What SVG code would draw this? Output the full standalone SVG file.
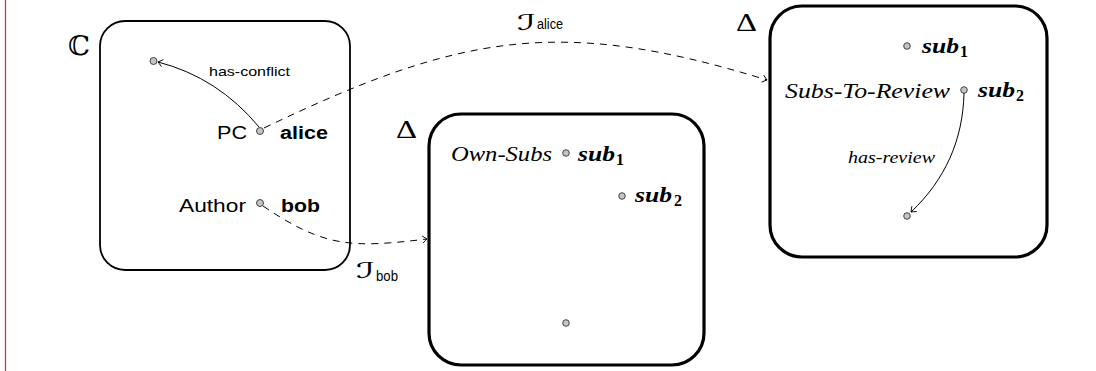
<svg xmlns="http://www.w3.org/2000/svg" width="1096" height="371" viewBox="0 0 1096 371">
<style>
.box{fill:#fff;stroke:#000}
.thin{stroke-width:1.8}
.thick{stroke-width:3.2}
.nd{fill:#c4c4c4;stroke:#333;stroke-width:0.9}
.sans{font-family:"Liberation Sans","DejaVu Sans",sans-serif;fill:#000}
.serif{font-family:"Liberation Serif","DejaVu Serif",serif;fill:#000}
.it{font-style:italic}
.bi{font-style:italic;font-weight:bold;font-size:22px}
.sb{font-weight:bold;font-size:16px}
.edge{fill:none;stroke:#000;stroke-width:1}
.dash{fill:none;stroke:#000;stroke-width:1;stroke-dasharray:7 6}
.script{font-family:"DejaVu Sans","DejaVu Serif",sans-serif;fill:#000}
.delta{font-family:"Liberation Serif","DejaVu Serif",serif;font-weight:normal;fill:#000}
</style>
<defs>
<marker id="arr" markerWidth="10" markerHeight="10" refX="0" refY="0" viewBox="-6 -5 8 10" orient="auto" markerUnits="userSpaceOnUse">
<path d="M-4.5,-3.6 Q-1.2,-0.8 0,0 Q-1.2,0.8 -4.5,3.6" fill="none" stroke="#000" stroke-width="0.9"/>
</marker>
</defs>
<line x1="5.5" y1="0" x2="5.5" y2="371" stroke="#d9262b" stroke-width="1.2"/>

<g id="box-C">
<rect class="box thin" x="100" y="21" width="250" height="249" rx="25"/>
<text class="serif" x="68" y="55" font-size="27" font-family="DejaVu Serif" textLength="22" lengthAdjust="spacingAndGlyphs">ℂ</text>
</g>
<g id="box-own">
<rect class="box thick" x="429" y="114" width="275" height="251" rx="32"/>
<text class="delta" x="396" y="138" font-size="25" textLength="21" lengthAdjust="spacingAndGlyphs">Δ</text>
</g>
<g id="box-review">
<rect class="box thick" x="770" y="6" width="277" height="251" rx="32"/>
<text class="delta" x="736" y="31" font-size="25" textLength="21" lengthAdjust="spacingAndGlyphs">Δ</text>
</g>

<g id="connectors">
<path class="edge" d="M259,127 Q218,77.5 158,62" marker-end="url(#arr)"/>
<path class="edge" d="M964,93 C963,140 945,180 911,212" marker-end="url(#arr)"/>
<path class="dash" d="M264,128 C460,34 560,16 767,80" marker-end="url(#arr)"/>
<path class="dash" d="M263,206 C325,248 352,248 427,239" marker-end="url(#arr)"/>
<text class="sans" x="209" y="76" font-size="13" textLength="81" lengthAdjust="spacingAndGlyphs">has-conflict</text>
<text class="serif it" x="848" y="163" font-size="16" textLength="87" lengthAdjust="spacingAndGlyphs">has-review</text>
<g id="label-alice">
<text class="script" x="517" y="30" font-size="22" textLength="19" lengthAdjust="spacingAndGlyphs">ℐ</text>
<text class="sans" x="537" y="29" font-size="14" textLength="26" lengthAdjust="spacingAndGlyphs">alice</text>
</g>
<g id="label-bob">
<text class="script" x="356" y="278" font-size="22" textLength="19" lengthAdjust="spacingAndGlyphs">ℐ</text>
<text class="sans" x="376" y="281" font-size="14" textLength="22" lengthAdjust="spacingAndGlyphs">bob</text>
</g>
</g>

<g id="node-c1"><circle class="nd" cx="153.5" cy="61" r="3.5"/></g>
<g id="node-alice">
<circle class="nd" cx="260" cy="131" r="3.5"/>
<text class="sans" x="247" y="139" font-size="18" text-anchor="end" textLength="30" lengthAdjust="spacingAndGlyphs">PC</text>
<text class="sans" x="280" y="139" font-size="18" font-weight="bold" textLength="48" lengthAdjust="spacingAndGlyphs">alice</text>
</g>
<g id="node-bob">
<circle class="nd" cx="260" cy="203" r="3.5"/>
<text class="sans" x="246" y="212" font-size="18" text-anchor="end" textLength="67" lengthAdjust="spacingAndGlyphs">Author</text>
<text class="sans" x="281" y="212" font-size="18" font-weight="bold" textLength="39" lengthAdjust="spacingAndGlyphs">bob</text>
</g>

<g id="node-own-sub1">
<circle class="nd" cx="566" cy="153" r="3.3"/>
<text class="serif it" x="451" y="161" font-size="20" textLength="101" lengthAdjust="spacingAndGlyphs">Own-Subs</text>
<text class="serif bi" x="578" y="161" textLength="37" lengthAdjust="spacingAndGlyphs">sub</text>
<text class="serif sb" x="616" y="165">1</text>
</g>
<g id="node-own-sub2">
<circle class="nd" cx="622" cy="196" r="3.3"/>
<text class="serif bi" x="635" y="202" textLength="37" lengthAdjust="spacingAndGlyphs">sub</text>
<text class="serif sb" x="674" y="206">2</text>
</g>
<g id="node-own-3"><circle class="nd" cx="566" cy="323" r="3.3"/></g>

<g id="node-rev-sub1">
<circle class="nd" cx="907" cy="46" r="3.3"/>
<text class="serif bi" x="922" y="53" textLength="37" lengthAdjust="spacingAndGlyphs">sub</text>
<text class="serif sb" x="960" y="57">1</text>
</g>
<g id="node-rev-sub2">
<circle class="nd" cx="964" cy="90" r="3.3"/>
<text class="serif it" x="785" y="98" font-size="20" textLength="165" lengthAdjust="spacingAndGlyphs">Subs-To-Review</text>
<text class="serif bi" x="978" y="97" textLength="37" lengthAdjust="spacingAndGlyphs">sub</text>
<text class="serif sb" x="1016" y="101">2</text>
</g>
<g id="node-rev-3"><circle class="nd" cx="907" cy="216" r="3.3"/></g>
</svg>
